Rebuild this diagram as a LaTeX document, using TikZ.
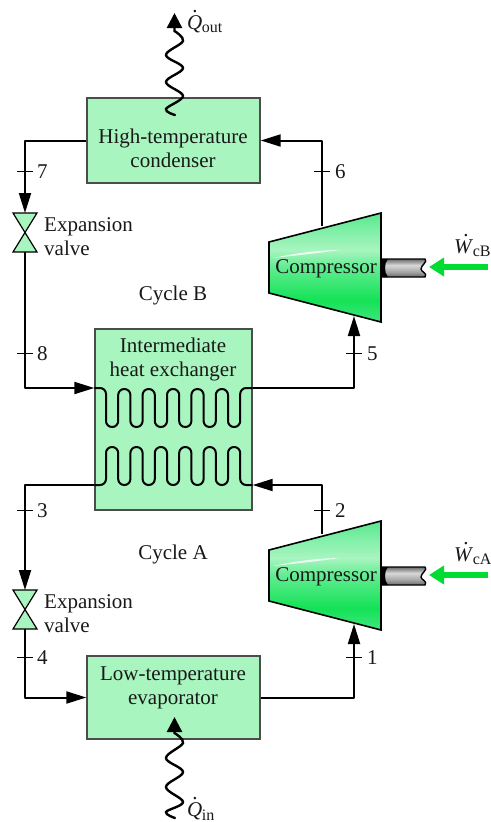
\documentclass[tikz,border=0pt]{standalone}
\usepackage{fontspec}
\setmainfont{Liberation Serif}
\usetikzlibrary{arrows.meta}
\definecolor{compA}{HTML}{14E256}
\definecolor{compB}{HTML}{40E67E}
\definecolor{compC}{HTML}{60EC90}
\definecolor{compD}{HTML}{A8F5C0}
\definecolor{compF}{HTML}{84F0AA}
\definecolor{compE}{HTML}{58E88C}
\definecolor{shA}{HTML}{6A6A6A}
\definecolor{shB}{HTML}{A8A8A8}
\definecolor{shC}{HTML}{D8D8D8}
\definecolor{boxfill}{HTML}{A8F5BF}
\definecolor{workgreen}{HTML}{00DC32}
\pgfdeclareverticalshading{compshade}{100bp}{color(0bp)=(compB);color(25bp)=(compB);color(35bp)=(compA);color(50bp)=(compC);color(58bp)=(compD);color(66bp)=(compF);color(75bp)=(compE);color(100bp)=(compE)}
\pgfdeclareverticalshading{shaftshade}{100bp}{color(0bp)=(shA);color(25bp)=(shA);color(40bp)=(shB);color(58bp)=(shC);color(75bp)=(shA);color(100bp)=(shA)}
\newcommand{\qdot}[3]{\textit{#1}\llap{\smash{\raisebox{#3}{\makebox[0.7em][c]{.}}}}\kern-0.5pt\smash{\raisebox{-3.5pt}{\fontsize{16}{16}\selectfont #2}}}
\tikzset{
  x=1pt,y=-1pt,
  txt/.style={font=\fontsize{21}{24}\selectfont,inner sep=0pt,align=center,text=black!90},
  txtl/.style={txt,align=left,anchor=west},
  unit/.style={draw=black!70,line width=1.4pt,fill=boxfill,inner sep=0pt,minimum width=#1},
  pipe/.style={line width=2pt,line join=round},
  flow/.style={pipe,-{Triangle[length=20pt,width=12pt]}},
  wave/.style={line width=2.4pt,line cap=round,-{Triangle[length=15pt,width=15pt]}},
  coil/.style={line width=2pt,rounded corners=6pt},
  tick/.style={line width=1pt},
  num/.style={txt,anchor=west},
  valvest/.style={draw=black,line width=1.2pt,fill=boxfill,line join=miter},
  compout/.style={draw=black,line width=1.6pt,line join=miter},
}
\begin{document}
\begin{tikzpicture}
\useasboundingbox (0,0) rectangle (490,822);
\fill[white] (0,0) rectangle (490,822);
% units
\node[unit=173pt,minimum height=85pt] (cond) at (173.5,140.5) {};
\node[unit=157pt,minimum height=181pt] (hx) at (173.5,419.5) {};
\node[unit=173pt,minimum height=83pt] (evap) at (173.5,697.5) {};
% ports
\coordinate (hxinT) at (hx.west |- 0,388);
\coordinate (hxoutT) at (hx.east |- 0,388);
\coordinate (hxoutB) at (hx.west |- 0,485);
\coordinate (hxinB) at (hx.east |- 0,485);
\coordinate (vBtop) at (25,213);
\coordinate (vBmid) at (25,232.5);
\coordinate (vBbot) at (25,252);
\coordinate (vAtop) at (25,590);
\coordinate (vAmid) at (25,609.5);
\coordinate (vAbot) at (25,629);
\coordinate (cBin) at (354,316);
\coordinate (cBout) at (322,226);
\coordinate (cAin) at (354,624);
\coordinate (cAout) at (322,534);
% connectors
\draw[flow] (cond.west) -| (vBtop);
\draw[flow] (vBbot) |- (hxinT);
\draw[flow] (hxoutT) -| (cBin);
\draw[flow] (cBout) |- (cond.east);
\draw[flow] (hxoutB) -| (vAtop);
\draw[flow] (vAbot) |- (evap.west);
\draw[flow] (evap.east) -| (cAin);
\draw[flow] (cAout) |- (hxinB);
% ticks
\foreach \n/\x/\y/\lx in {7/25/171/37,8/25/353/37,3/25/510/37,4/25/657/37,6/322/171/335,2/322/510/335,5/354/353/367,1/354/657/367}{
  \draw[tick] (\x-8,\y) -- (\x+8,\y);
  \node[num] (n\n) at (\lx,\y+1) {\n};
}
% valves
\draw[valvest] (vBtop) ++(-12,0) -- ++(24,0) -- (vBmid) -- cycle;
\draw[valvest] (vBbot) ++(-12,0) -- ++(24,0) -- (vBmid) -- cycle;
\draw[valvest] (vAtop) ++(-12,0) -- ++(24,0) -- (vAmid) -- cycle;
\draw[valvest] (vAbot) ++(-12,0) -- ++(24,0) -- (vAmid) -- cycle;
\node[txtl] (vBtext) at (44,237) {Expansion\\valve};
\node[txtl] (vAtext) at (44,614) {Expansion\\valve};
% coils
\draw[coil] (hxinT) -- (106,388) -- (106,427) -- (118.2,427) -- (118.2,389) -- (130.4,389) -- (130.4,427) -- (142.6,427) -- (142.6,389) -- (154.8,389) -- (154.8,427) -- (167,427) -- (167,389) -- (179.2,389) -- (179.2,427) -- (191.4,427) -- (191.4,389) -- (203.6,389) -- (203.6,427) -- (215.8,427) -- (215.8,389) -- (228,389) -- (228,427) -- (240.2,427) -- (240.2,388) -- (hxoutT);
\draw[coil] (hxoutB) -- (106,485) -- (106,447) -- (118.2,447) -- (118.2,485) -- (130.4,485) -- (130.4,447) -- (142.6,447) -- (142.6,485) -- (154.8,485) -- (154.8,447) -- (167,447) -- (167,485) -- (179.2,485) -- (179.2,447) -- (191.4,447) -- (191.4,485) -- (203.6,485) -- (203.6,447) -- (215.8,447) -- (215.8,485) -- (228,485) -- (228,447) -- (240.2,447) -- (240.2,485) -- (hxinB);
% unit text
\node[txt] (condt) at (173,148) {High-temperature\\condenser};
\node[txt] (hxt) at (173,359) {Intermediate\\heat exchanger};
\node[txt] (evapt) at (173,687.5) {Low-temperature\\evaporator};
\node[txt] (cycB) at (173,295) {Cycle B};
\node[txt] (cycA) at (173,554) {Cycle A};
% heat waves
\draw[wave] plot[smooth,tension=0.6] coordinates {(175,115) (166,109) (183,96) (166,82) (183,68) (166,55) (183,41) (174.5,31)} -- (174.5,13);
\draw[wave] plot[smooth,tension=0.6] coordinates {(175,818) (166,812) (183,802) (166,787) (183,772) (166,758) (183,743) (174.5,733)} -- (174.5,717);
\node[txt,anchor=base west] (qout) at (187,29) {\qdot{Q}{out}{17pt}};
\node[txt,anchor=base west] (qin) at (187,816.5) {\qdot{Q}{in}{17pt}};
% compressors
\foreach \name/\dy/\lab/\wx in {B/0/cB/454,A/308/cA/454}{
  \begin{scope}[yshift=-\dy pt]
    \path[shading=compshade,shading angle=0] (269,242) -- (381,213) -- (381,322) -- (269,293) -- cycle;
    \fill[white,opacity=.8] (273,258) .. controls (300,252) and (320,250.5) .. (339,250) .. controls (320,253) and (300,255) .. (273,258) -- cycle;
    \draw[compout] (269,242) -- (381,213) -- (381,322) -- (269,293) -- cycle;
    \path[shading=shaftshade,shading angle=0] (381,259) -- (426,259) .. controls (428,262) and (421,265) .. (421,269) .. controls (421,272) and (427,273) .. (426,277) -- (381,277) -- cycle;
    \fill[black] (381,259) -- (388,259) .. controls (384,263) and (384,273) .. (388,277) -- (381,277) -- cycle;
    \draw[line width=1.4pt,line join=round] (381,259) -- (425,259) .. controls (428,262) and (421,265) .. (421,269) .. controls (421,272) and (428,273) .. (425,277) -- (381,277);
    \draw[workgreen,line width=6pt,-{Triangle[length=15pt,width=18pt]}] (488,267) -- (429,267);
    \node[txt] (comp\name) at (326,269) {Compressor};
    \node[txt,anchor=base west] (w\name) at (\wx,253) {\qdot{W}{\lab}{16.5pt}};
  \end{scope}
}
\end{tikzpicture}
\end{document}
